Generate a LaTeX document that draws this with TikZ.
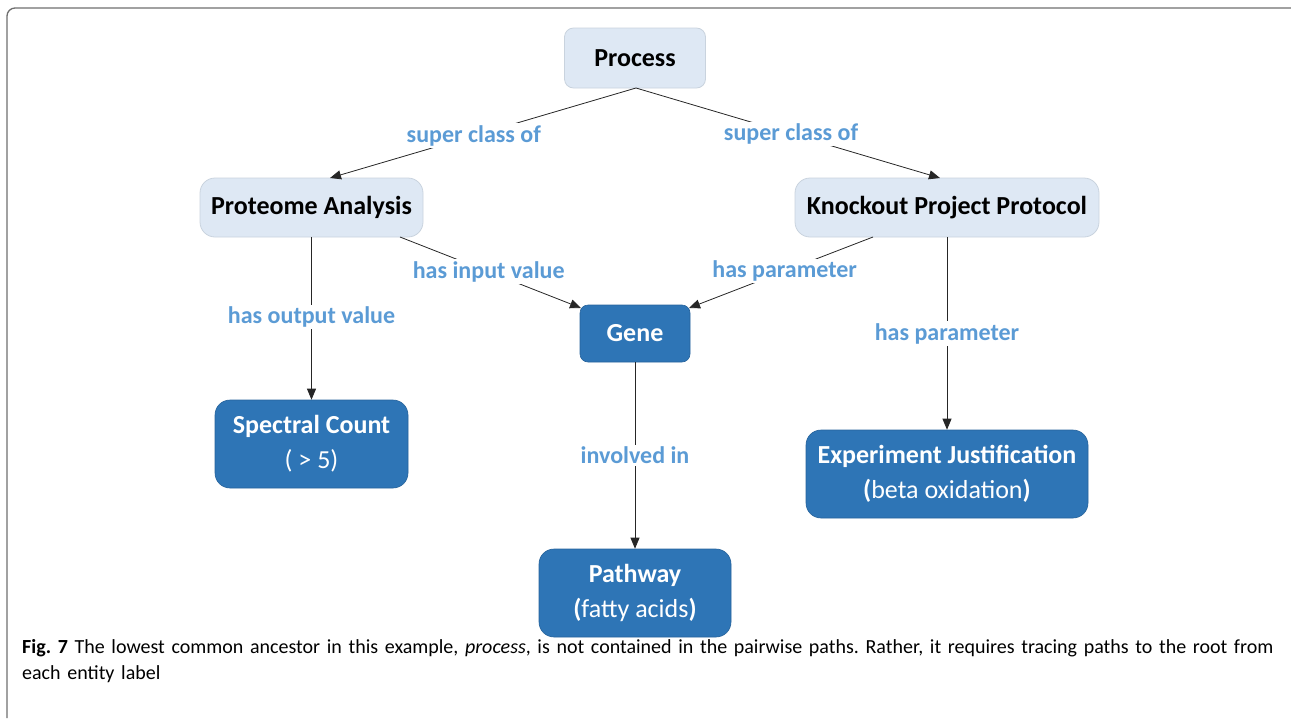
\documentclass[tikz,border=0pt]{standalone}
\usepackage{fontspec}
\setmainfont{Carlito}
\usetikzlibrary{arrows.meta}
\definecolor{lightbox}{HTML}{DEE8F4}
\definecolor{lightedge}{HTML}{C9D3DE}
\definecolor{darkbox}{HTML}{2E75B6}
\definecolor{relblue}{HTML}{5B9BD5}
\definecolor{framegray}{HTML}{6E6E6E}
\begin{document}
\begin{tikzpicture}[x=1pt,y=-1pt,
  classbox/.style={draw=lightedge,fill=lightbox,line width=0.8pt,rounded corners=15pt,
    font=\fontsize{26}{30}\selectfont\bfseries,text=black,align=center,inner sep=0pt},
  valbox/.style={draw=darkbox!85!black,fill=darkbox,line width=0.6pt,rounded corners=15pt,
    font=\fontsize{26}{35}\selectfont,text=white,align=center,inner sep=0pt},
  rel/.style={font=\fontsize{24}{28}\selectfont\bfseries,text=relblue,fill=white,inner sep=2pt},
  link/.style={draw=black!85,line width=0.8pt,-{Triangle[length=11pt,width=9pt]}}]
\useasboundingbox (0,0) rectangle (1291,718);
% outer frame, open to the right and bottom
\draw[framegray,line width=1.3pt] (7,718) -- (7,16) arc[start angle=180,end angle=270,radius=8] -- (1291,8);

% concept boxes
\node[classbox,rounded corners=9pt,minimum width=141pt,minimum height=60pt] (process) at (635,58) {Process};
\node[classbox,minimum width=223pt,minimum height=59pt] (proteome) at (311.5,207.5) {Proteome Analysis};
\node[classbox,minimum width=304pt,minimum height=59pt] (knockout) at (947,207.5) {Knockout Project Protocol};
\node[valbox,rounded corners=8pt,minimum width=110pt,minimum height=57pt,font=\fontsize{26}{30}\selectfont\bfseries] (gene) at (635,333.5) {Gene};
\node[valbox,minimum width=193pt,minimum height=88pt] (spectral) at (311.5,444) {\textbf{Spectral Count}\\( > 5)};
\node[valbox,minimum width=282pt,minimum height=88pt] (justif) at (947,474) {\textbf{Experiment Justification}\\\textbf{(}beta oxidation\textbf{)}};
\node[valbox,minimum width=192pt,minimum height=88pt] (pathway) at (635,593) {\textbf{Pathway}\\\textbf{(}fatty acids\textbf{)}};

% anchor points on box borders
\coordinate (pb) at (636,88);
\coordinate (pa1) at (330,178);
\coordinate (ko1) at (940,178);
\coordinate (pa2) at (400,237);
\coordinate (g1) at (581,308);
\coordinate (ko2) at (873,237);
\coordinate (g2) at (689,308);

% relations
\draw[link] (pb) -- node[rel,pos=0.53] {super class of} (pa1);
\draw[link] (pb) -- node[rel,pos=0.51] {super class of} (ko1);
\draw[link] (proteome.south -| spectral.north) -- node[rel,pos=0.49] {has output value} (spectral.north);
\draw[link] (pa2) -- node[rel,pos=0.49] {has input value} (g1);
\draw[link] (ko2) -- node[rel,pos=0.48] {has parameter} (g2);
\draw[link] (knockout.south) -- node[rel,pos=0.5] {has parameter} (justif.north);
\draw[link] (gene.south) -- node[rel,pos=0.5] {involved in} (pathway.north);

% caption
\node[anchor=north west,inner sep=0pt,align=left,text width=1262pt,
  font=\fontsize{20}{26}\selectfont\frenchspacing] (caption) at (22,639)
  {\textbf{Fig. 7} The lowest common ancestor in this example, \textit{process}, is not contained in the pairwise paths. Rather, it requires tracing paths to the root from each entity label};
\end{tikzpicture}
\end{document}
